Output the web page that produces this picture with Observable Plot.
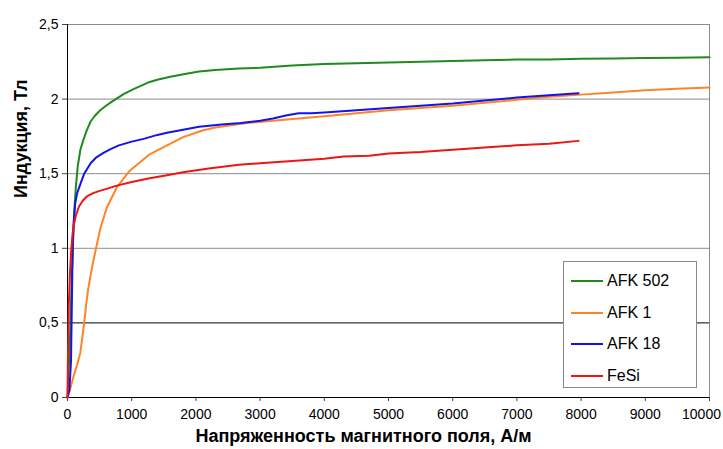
<!DOCTYPE html>
<html>
<head>
<meta charset="utf-8">
<script src="https://cdn.jsdelivr.net/npm/d3@7"></script>
<script src="https://cdn.jsdelivr.net/npm/@observablehq/plot@0.6"></script>
<style>
  html, body { margin: 0; padding: 0; background: #fff; }
  #wrap { position: relative; width: 723px; height: 449px; font-family: "Liberation Sans", Arial, sans-serif; }
  #legend { position: absolute; left: 563px; top: 261px; width: 132px; height: 125px; border: 1px solid #8a8a8a; background: #fff; }
  .row { position: absolute; left: 7px; height: 20px; display: flex; align-items: center; font-size: 16px; color: #000; }
  .row span.sw { display: inline-block; width: 32px; height: 2px; margin-right: 4px; }
</style>
</head>
<body>
<div id="wrap"><div id="legend"></div></div>
<script>
const seriesNames = ["AFK 502", "AFK 1", "AFK 18", "FeSi"];
const seriesColors = ["#1f8a1f", "#ff8426", "#1414e6", "#ee1515"];

const afk502H = [0, 40, 70, 90, 110, 130, 160, 200, 250, 300, 360, 430, 510, 600, 680, 770, 880, 1020, 1150, 1280, 1400, 1600, 1850, 2050, 2300, 2670, 3000, 3500, 4000, 4500, 5000, 5500, 6000, 6500, 7000, 7500, 8000, 8500, 9000, 9500, 10000];
const afk502B = [0, 0.4, 0.85, 1.1, 1.28, 1.41, 1.55, 1.66, 1.73, 1.79, 1.85, 1.89, 1.925, 1.955, 1.98, 2.005, 2.035, 2.065, 2.09, 2.115, 2.13, 2.15, 2.17, 2.185, 2.195, 2.205, 2.21, 2.225, 2.235, 2.24, 2.245, 2.25, 2.255, 2.26, 2.265, 2.265, 2.27, 2.272, 2.275, 2.277, 2.28];

const afk1H = [0, 50, 100, 150, 200, 230, 260, 290, 320, 360, 400, 440, 510, 610, 770, 970, 1280, 1550, 1800, 2100, 2300, 2800, 3200, 3600, 4000, 4500, 5000, 5500, 6000, 6500, 7000, 7500, 8000, 8500, 9000, 9500, 10000];
const afk1B = [0, 0.07, 0.15, 0.22, 0.3, 0.4, 0.5, 0.62, 0.72, 0.82, 0.91, 0.99, 1.13, 1.27, 1.41, 1.52, 1.63, 1.69, 1.745, 1.79, 1.81, 1.84, 1.855, 1.87, 1.885, 1.905, 1.925, 1.94, 1.955, 1.975, 1.995, 2.015, 2.03, 2.045, 2.06, 2.07, 2.077];

const afk18H = [0, 30, 55, 65, 75, 85, 100, 120, 150, 200, 260, 360, 450, 560, 670, 800, 1000, 1200, 1400, 1550, 1800, 2050, 2400, 2700, 3000, 3200, 3400, 3600, 3800, 4000, 4500, 5000, 5500, 6000, 6500, 7000, 7500, 7960];
const afk18B = [0, 0.05, 0.25, 0.55, 0.85, 1.05, 1.2, 1.3, 1.37, 1.43, 1.5, 1.57, 1.61, 1.64, 1.665, 1.69, 1.715, 1.735, 1.76, 1.775, 1.795, 1.815, 1.83, 1.84, 1.855, 1.87, 1.89, 1.905, 1.905, 1.91, 1.925, 1.94, 1.955, 1.97, 1.99, 2.01, 2.025, 2.04];

const fesiH = [0, 8, 20, 40, 60, 80, 100, 130, 180, 240, 310, 400, 500, 620, 770, 1000, 1280, 1550, 1800, 2200, 2670, 3000, 3500, 4000, 4300, 4700, 5000, 5500, 6000, 6500, 7000, 7500, 7960];
const fesiB = [0, 0.3, 0.62, 0.85, 1.0, 1.1, 1.16, 1.22, 1.28, 1.32, 1.35, 1.37, 1.385, 1.40, 1.42, 1.445, 1.47, 1.49, 1.51, 1.535, 1.56, 1.57, 1.585, 1.60, 1.615, 1.62, 1.635, 1.645, 1.66, 1.675, 1.69, 1.70, 1.72];

const xTicks = [0, 1000, 2000, 3000, 4000, 5000, 6000, 7000, 8000, 9000, 10000];
const xLastTick = [10000];
const yTicks = [0, 0.5, 1, 1.5, 2, 2.5];
const gridGray = [1, 1.5, 2, 2.5];
const gridDark = [0.5];
const xLabel = "Напряженность магнитного поля, А/м";
const yLabel = "Индукция, Тл";

const hs = [afk502H, afk1H, afk18H, fesiH];
const bs = [afk502B, afk1B, afk18B, fesiB];
const rows = [];
seriesNames.forEach((name, i) => {
  hs[i].forEach((h, j) => rows.push({series: name, H: h, B: bs[i][j]}));
});

const chart = Plot.plot({
  width: 723,
  height: 449,
  marginLeft: 67,
  marginRight: 14,
  marginTop: 24,
  marginBottom: 52,
  style: {fontFamily: "'Liberation Sans', Arial, sans-serif", fontSize: "14px", color: "#000", background: "#fff"},
  x: {domain: [0, 10000]},
  y: {domain: [0, 2.5]},
  color: {domain: seriesNames, range: seriesColors},
  marks: [
    Plot.frame({stroke: "#8c8c8c"}),
    Plot.ruleY(gridGray, {stroke: "#8c8c8c", strokeWidth: 1}),
    Plot.ruleY(gridDark, {stroke: "#000", strokeWidth: 1}),
    Plot.axisX({ticks: xTicks, tickFormat: d => (xLastTick.includes(d) ? "" : String(d)), tickSize: 4, tickPadding: 8, label: null, stroke: "#444"}),
    Plot.axisX({ticks: xLastTick, tickFormat: d => String(d), tickSize: 0, tickPadding: 12, label: null, dx: -8}),
    Plot.axisY({ticks: yTicks, tickFormat: d => String(d).replace(".", ","), tickSize: 5, tickPadding: 4, label: null, stroke: "#444"}),
    Plot.text([xLabel], {text: d => d, frameAnchor: "bottom", dx: -25, dy: 44, fontSize: 18, fontWeight: "bold", fill: "#000"}),
    Plot.text([yLabel], {text: d => d, frameAnchor: "left", dx: -46, dy: -13, rotate: -90, fontSize: 18, fontWeight: "bold", fill: "#000"}),
    Plot.ruleX([0], {stroke: "#000"}),
    Plot.ruleY([0], {stroke: "#000"}),
    Plot.line(rows, {x: "H", y: "B", z: "series", stroke: "series", strokeWidth: 2, curve: "linear"})
  ]
});

const wrap = document.getElementById("wrap");
wrap.insertBefore(chart, wrap.firstChild);

const legend = document.getElementById("legend");
seriesNames.forEach((name, i) => {
  const r = document.createElement("div");
  r.className = "row";
  r.style.top = (9 + i * 31.5) + "px";
  const sw = document.createElement("span");
  sw.className = "sw";
  sw.style.background = seriesColors[i];
  r.appendChild(sw);
  r.appendChild(document.createTextNode(name));
  legend.appendChild(r);
});
</script>
</body>
</html>
